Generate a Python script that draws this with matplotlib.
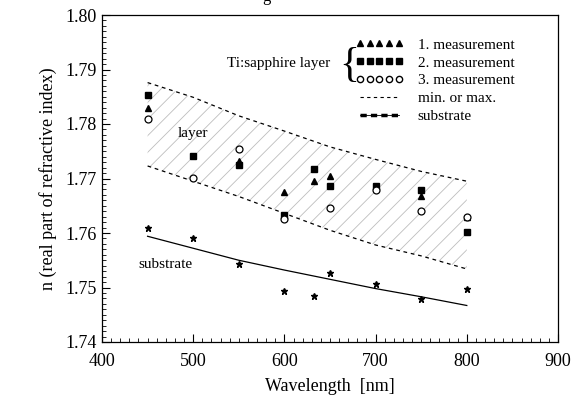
import numpy as np
import matplotlib
matplotlib.use('Agg')
import matplotlib.pyplot as plt
from matplotlib.lines import Line2D
from matplotlib.legend_handler import HandlerTuple
from matplotlib.ticker import MultipleLocator

plt.rcParams['font.family'] = ['Liberation Serif', 'DejaVu Serif']
plt.rcParams['hatch.linewidth'] = 0.6

# measured points (nm, n)
wl = [450, 500, 550, 600, 633, 650, 700, 750, 800]
meas1 = [1.7829, np.nan, 1.7732, 1.7676, 1.7696, 1.7705, np.nan, 1.7668, 1.7629]
meas2 = [1.7853, 1.7741, 1.7725, 1.7633, 1.7717, 1.7687, 1.7687, 1.7678, 1.7601]
wl3 = [450, 500, 550, 600, 650, 700, 750, 800]
meas3 = [1.7810, 1.7701, 1.7754, 1.7626, 1.7646, 1.7679, 1.7640, 1.7629]
subs_pts = [1.7610, 1.7591, 1.7544, 1.7494, 1.7484, 1.7526, 1.7506, 1.7479, 1.7498]

# curves
wl_c = [450, 500, 550, 600, 650, 700, 750, 800]
n_max = [1.7876, 1.7849, 1.7815, 1.7787, 1.7758, 1.7735, 1.7713, 1.7695]
n_min = [1.7723, 1.7695, 1.7667, 1.7636, 1.7605, 1.7578, 1.7558, 1.7534]
n_sub = [1.7594, 1.7572, 1.7550, 1.7532, 1.7515, 1.7498, 1.7483, 1.7467]

fig = plt.figure(figsize=(5.78, 4.05), dpi=100)
ax = fig.add_axes([102/578, 1 - 342/405, 456/578, 327/405])

ax.fill_between(wl_c, n_min, n_max, facecolor='none', edgecolor='#bdbdbd',
                hatch='//', linewidth=0)
ax.plot(wl_c, n_max, color='black', linestyle=(0, (3, 3)), linewidth=0.9)
ax.plot(wl_c, n_min, color='black', linestyle=(0, (3, 3)), linewidth=0.9)
ax.plot(wl_c, n_sub, color='black', linewidth=0.9)

ax.plot(wl, meas1, linestyle='none', marker='^', color='black', markersize=5)
ax.plot(wl, meas2, linestyle='none', marker='s', color='black', markersize=4.5)
ax.plot(wl3, meas3, linestyle='none', marker='o', markerfacecolor='white',
        markeredgecolor='black', markersize=5, markeredgewidth=0.9)
ax.plot(wl, subs_pts, linestyle='none', marker='*', color='black', markersize=4.5)

ax.set_xlim(400, 900)
ax.set_ylim(1.74, 1.80)
ax.xaxis.set_major_locator(MultipleLocator(100))
ax.xaxis.set_minor_locator(MultipleLocator(10))
ax.yaxis.set_major_locator(MultipleLocator(0.01))
ax.yaxis.set_minor_locator(MultipleLocator(0.001))
ax.yaxis.set_major_formatter(plt.FormatStrFormatter('%.2f'))
ax.tick_params(which='both', direction='in', top=False, right=False, labelsize=13)
ax.tick_params(which='major', length=6)
ax.tick_params(which='minor', length=3)
ax.tick_params(axis='x', pad=8)
for s in ax.spines.values():
    s.set_linewidth(0.9)

ax.set_xlabel('Wavelength  [nm]', fontsize=13, labelpad=6)
ax.set_ylabel('n (real part of refractive index)', fontsize=13, labelpad=6)

fig.text(208/578, 1 - 133/405, 'layer', fontsize=11, ha='right', va='center')
fig.text(138/578, 1 - 264/405, 'substrate', fontsize=11, ha='left', va='center')
fig.text(330/578, 1 - 64/405, 'Ti:sapphire layer', fontsize=11, ha='right', va='center')
fig.text(349/578, 1 - 66/405, '{', fontsize=30, ha='center', va='center')
fig.text(266/578, 1 - 1/405, 'g', fontsize=12, ha='center', va='baseline')

handles = [
    Line2D([], [], linestyle='none', marker='^', color='black', markersize=5),
    Line2D([], [], linestyle='none', marker='s', color='black', markersize=4.5),
    Line2D([], [], linestyle='none', marker='o', markerfacecolor='white',
           markeredgecolor='black', markersize=4.5),
    Line2D([], [], color='black', linestyle=(0, (3, 3)), linewidth=0.8),
    (Line2D([], [], color='black', linestyle=(0, (1.8, 1.2)), linewidth=2.5),
     Line2D([], [], color='black', linewidth=0.6)),
]
labels = ['1. measurement', '2. measurement', '3. measurement', 'min. or max.', 'substrate']
fig.legend(handles, labels, loc='upper left', bbox_to_anchor=(355/578, 1 - 38/405),
           bbox_transform=fig.transFigure, frameon=False, fontsize=11, numpoints=5,
           handlelength=3.2, handletextpad=0.9, labelspacing=0.27, borderpad=0,
           borderaxespad=0, handler_map={tuple: HandlerTuple(ndivide=1)})

fig.savefig('out.png', dpi=100)
